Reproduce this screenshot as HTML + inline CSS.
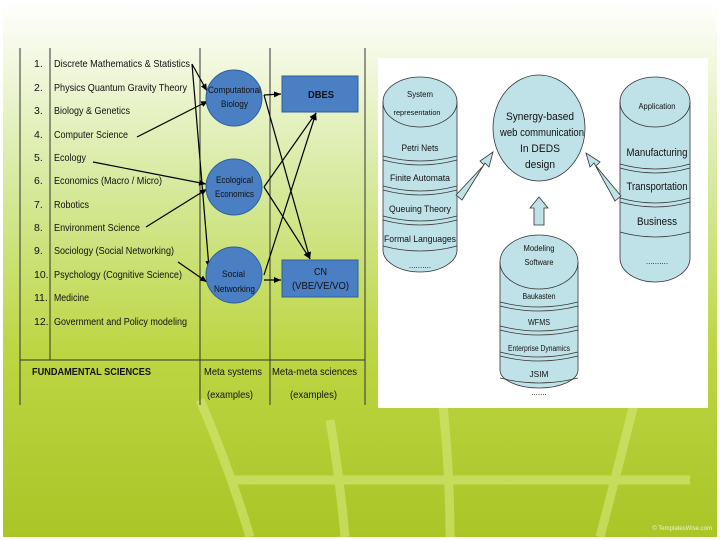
<!DOCTYPE html>
<html><head><meta charset="utf-8"><style>
html,body{margin:0;padding:0;background:#fff}
svg{display:block}
text{font-family:"Liberation Sans",sans-serif}
</style></head><body>
<svg width="720" height="540" viewBox="0 0 720 540" xmlns="http://www.w3.org/2000/svg">
<defs>
<linearGradient id="bg" x1="0" y1="0" x2="0" y2="1">
<stop offset="0" stop-color="#ffffff"/>
<stop offset="0.1" stop-color="#f4f9e4"/>
<stop offset="0.35" stop-color="#d6e99c"/>
<stop offset="0.65" stop-color="#bdd644"/>
<stop offset="1" stop-color="#a9c526"/>
</linearGradient>
<marker id="ar" markerWidth="8" markerHeight="8" refX="7" refY="4" orient="auto" markerUnits="userSpaceOnUse"><path d="M0,1 L7,4 L0,7 z" fill="#000"/></marker>
</defs>
<rect x="3" y="0" width="714" height="537" fill="url(#bg)"/>
<g stroke="#d6e87a" stroke-width="9" fill="none" opacity="0.6">
<path d="M200,400 Q230,470 250,537"/><path d="M330,420 Q340,480 345,537"/><path d="M440,380 Q450,460 450,537"/><path d="M640,380 Q620,460 600,537"/>
<path d="M230,480 L690,480"/>
</g>
<text x="712" y="530" font-size="6" fill="#eef5d0" text-anchor="end">© TemplatesWise.com</text>

<g stroke="#333" stroke-width="1" fill="none">
<line x1="20" y1="48" x2="20" y2="405"/>
<line x1="50" y1="48" x2="50" y2="360"/>
<line x1="200" y1="48" x2="200" y2="405"/>
<line x1="270" y1="48" x2="270" y2="405"/>
<line x1="365" y1="48" x2="365" y2="405"/>
<line x1="20" y1="360" x2="365" y2="360"/>
</g>
<g font-size="10.5" fill="#111" lengthAdjust="spacingAndGlyphs">
<text x="34" y="67">1.</text><text x="54" y="67" textLength="136" lengthAdjust="spacingAndGlyphs">Discrete Mathematics &amp; Statistics</text>
<text x="34" y="91">2.</text><text x="54" y="91" textLength="133" lengthAdjust="spacingAndGlyphs">Physics Quantum Gravity Theory</text>
<text x="34" y="114">3.</text><text x="54" y="114" textLength="76" lengthAdjust="spacingAndGlyphs">Biology &amp; Genetics</text>
<text x="34" y="138">4.</text><text x="54" y="138" textLength="74" lengthAdjust="spacingAndGlyphs">Computer Science</text>
<text x="34" y="161">5.</text><text x="54" y="161" textLength="32" lengthAdjust="spacingAndGlyphs">Ecology</text>
<text x="34" y="184">6.</text><text x="54" y="184" textLength="108" lengthAdjust="spacingAndGlyphs">Economics (Macro / Micro)</text>
<text x="34" y="208">7.</text><text x="54" y="208" textLength="35" lengthAdjust="spacingAndGlyphs">Robotics</text>
<text x="34" y="231">8.</text><text x="54" y="231" textLength="86" lengthAdjust="spacingAndGlyphs">Environment Science</text>
<text x="34" y="254">9.</text><text x="54" y="254" textLength="120" lengthAdjust="spacingAndGlyphs">Sociology (Social Networking)</text>
<text x="34" y="278">10.</text><text x="54" y="278" textLength="128" lengthAdjust="spacingAndGlyphs">Psychology (Cognitive Science)</text>
<text x="34" y="301">11.</text><text x="54" y="301" textLength="35" lengthAdjust="spacingAndGlyphs">Medicine</text>
<text x="34" y="325">12.</text><text x="54" y="325" textLength="133" lengthAdjust="spacingAndGlyphs">Government and Policy modeling</text>
<text x="32" y="375" font-weight="bold" textLength="119" lengthAdjust="spacingAndGlyphs">FUNDAMENTAL SCIENCES</text>
<text x="204" y="375" textLength="58" lengthAdjust="spacingAndGlyphs">Meta systems</text>
<text x="272" y="375" textLength="85" lengthAdjust="spacingAndGlyphs">Meta-meta sciences</text>
<text x="207" y="398" textLength="46" lengthAdjust="spacingAndGlyphs">(examples)</text>
<text x="290" y="398" textLength="47" lengthAdjust="spacingAndGlyphs">(examples)</text>
</g>
<g stroke="#000" stroke-width="1.2" fill="none" marker-end="url(#ar)">
<line x1="192" y1="64" x2="207" y2="91"/>
<line x1="192" y1="64" x2="209" y2="268"/>
<line x1="137" y1="137" x2="208" y2="101"/>
<line x1="93" y1="162" x2="206" y2="184"/>
<line x1="146" y1="227" x2="207" y2="189"/>
<line x1="178" y1="262" x2="207" y2="282"/>
<line x1="264" y1="95" x2="281" y2="94"/>
<line x1="264" y1="280" x2="281" y2="280"/>
<line x1="264" y1="95" x2="310" y2="259"/>
<line x1="264" y1="187" x2="310" y2="259"/>
<line x1="264" y1="187" x2="316" y2="113"/>
<line x1="264" y1="275" x2="316" y2="113"/>
</g>
<g fill="#4a7fc4" stroke="#2f5f9a" stroke-width="1">
<circle cx="234" cy="98" r="28"/>
<circle cx="234" cy="187" r="28"/>
<circle cx="234" cy="275" r="28"/>
<rect x="282" y="76" width="76" height="36"/>
<rect x="282" y="260" width="76" height="37"/>
</g>
<g font-size="9" fill="#111">
<text x="208" y="93" textLength="53" lengthAdjust="spacingAndGlyphs">Computational</text><text x="221" y="107" textLength="27" lengthAdjust="spacingAndGlyphs">Biology</text>
<text x="216" y="183" textLength="37" lengthAdjust="spacingAndGlyphs">Ecological</text><text x="215" y="197" textLength="39" lengthAdjust="spacingAndGlyphs">Economics</text>
<text x="222" y="277" textLength="23" lengthAdjust="spacingAndGlyphs">Social</text><text x="214" y="292" textLength="41" lengthAdjust="spacingAndGlyphs">Networking</text>
<text x="308" y="98" font-size="10.5" font-weight="bold" textLength="26" lengthAdjust="spacingAndGlyphs">DBES</text>
<text x="314" y="275" font-size="10" textLength="13" lengthAdjust="spacingAndGlyphs">CN</text><text x="292" y="289" font-size="10" textLength="57" lengthAdjust="spacingAndGlyphs">(VBE/VE/VO)</text>
</g>

<rect x="378" y="58" width="330" height="350" fill="#fff"/>
<g fill="#bfe2e8" stroke="#333" stroke-width="0.8">
<path d="M383,102 A37,25 0 0 1 457,102 L457,250 A37,22 0 0 1 383,250 Z"/>
<path d="M383,102 A37,25 0 0 0 457,102" fill="none"/>
<path d="M620,102 A35,25 0 0 1 690,102 L690,258 A35,24 0 0 1 620,258 Z"/>
<path d="M620,102 A35,25 0 0 0 690,102" fill="none"/>
<path d="M500,262 A39,27 0 0 1 578,262 L578,370 A39,18 0 0 1 500,370 Z"/>
<path d="M500,262 A39,27 0 0 0 578,262" fill="none"/>
<ellipse cx="539" cy="128" rx="46" ry="53"/>
<path d="M456,195 L484,165 L480,161 L493,152 L489,167 L485,163 L462,200 Z"/>
<path d="M621,196 L596,166 L600,162 L586,153 L590,167 L594,163 L615,201 Z"/>
<path d="M534,225 L534,208 L530,208 L539,197 L548,208 L544,208 L544,225 Z"/>
</g>
<g stroke="#333" stroke-width="0.7" fill="none">
<path d="M383,156 Q420,166 457,156"/><path d="M383,160 Q420,170 457,160"/>
<path d="M383,186 Q420,196 457,186"/><path d="M383,190 Q420,200 457,190"/>
<path d="M383,216 Q420,226 457,216"/><path d="M383,220 Q420,230 457,220"/>
<path d="M383,246 Q420,256 457,246"/>
<path d="M620,164 Q655,174 690,164"/><path d="M620,168 Q655,178 690,168"/>
<path d="M620,198 Q655,208 690,198"/><path d="M620,202 Q655,212 690,202"/>
<path d="M620,232 Q655,242 690,232"/>
<path d="M500,302 Q539,312 578,302"/><path d="M500,306 Q539,316 578,306"/>
<path d="M500,326 Q539,336 578,326"/><path d="M500,330 Q539,340 578,330"/>
<path d="M500,352 Q539,362 578,352"/><path d="M500,356 Q539,366 578,356"/>
<path d="M500,378 Q539,388 578,378"/>
</g>
<g font-size="8" fill="#111" text-anchor="middle">
<text x="420" y="97" textLength="26" lengthAdjust="spacingAndGlyphs">System</text><text x="417" y="115" font-size="7.5" textLength="47" lengthAdjust="spacingAndGlyphs">representation</text>
<text x="420" y="151" font-size="9" textLength="37" lengthAdjust="spacingAndGlyphs">Petri Nets</text>
<text x="420" y="181" font-size="9" textLength="60" lengthAdjust="spacingAndGlyphs">Finite Automata</text>
<text x="420" y="212" font-size="9" textLength="62" lengthAdjust="spacingAndGlyphs">Queuing Theory</text>
<text x="420" y="242" font-size="9" textLength="72" lengthAdjust="spacingAndGlyphs">Formal Languages</text>
<text x="420" y="268">..........</text>
<text x="540" y="120" font-size="11" textLength="68" lengthAdjust="spacingAndGlyphs">Synergy-based</text>
<text x="542" y="136" font-size="11" textLength="84" lengthAdjust="spacingAndGlyphs">web communication</text>
<text x="540" y="152" font-size="11" textLength="40" lengthAdjust="spacingAndGlyphs">In DEDS</text>
<text x="540" y="168" font-size="11" textLength="30" lengthAdjust="spacingAndGlyphs">design</text>
<text x="657" y="109" textLength="37" lengthAdjust="spacingAndGlyphs">Application</text>
<text x="657" y="156" font-size="11" textLength="61" lengthAdjust="spacingAndGlyphs">Manufacturing</text>
<text x="657" y="190" font-size="11" textLength="61" lengthAdjust="spacingAndGlyphs">Transportation</text>
<text x="657" y="225" font-size="11" textLength="40" lengthAdjust="spacingAndGlyphs">Business</text>
<text x="657" y="264">..........</text>
<text x="539" y="251" textLength="31" lengthAdjust="spacingAndGlyphs">Modeling</text><text x="539" y="265" textLength="29" lengthAdjust="spacingAndGlyphs">Software</text>
<text x="539" y="299" textLength="33" lengthAdjust="spacingAndGlyphs">Baukasten</text>
<text x="539" y="325" textLength="22" lengthAdjust="spacingAndGlyphs">WFMS</text>
<text x="539" y="351" textLength="62" lengthAdjust="spacingAndGlyphs">Enterprise Dynamics</text>
<text x="539" y="377" textLength="19" lengthAdjust="spacingAndGlyphs">JSIM</text>
<text x="539" y="395">.......</text>
</g>
</svg>
</body></html>
